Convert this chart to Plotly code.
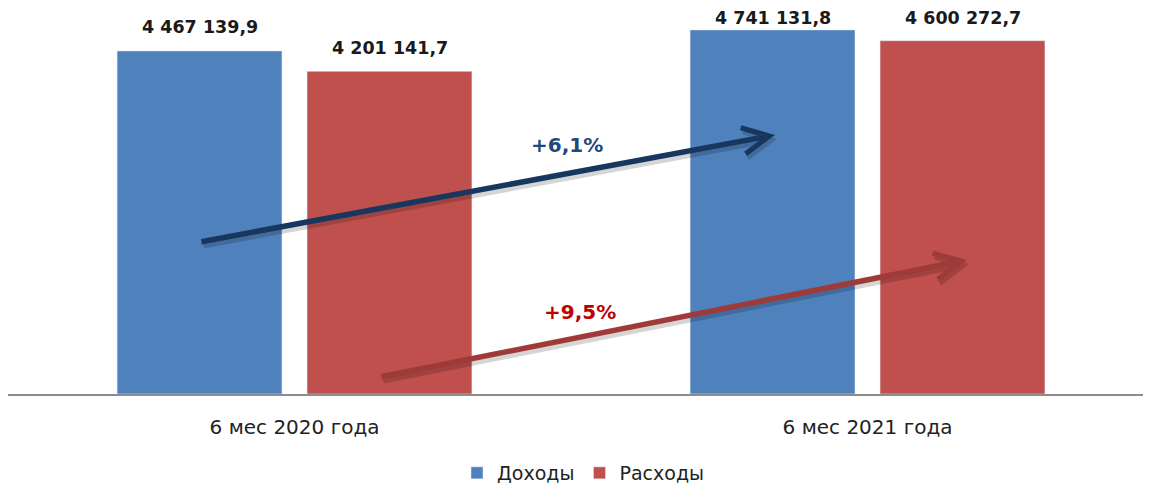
import plotly.graph_objects as go

categories = ["6 мес 2020 года", "6 мес 2021 года"]
income = [4467139.9, 4741131.8]
expenses = [4201141.7, 4600272.7]
series_names = ["Доходы", "Расходы"]
income_labels = ["4 467 139,9", "4 741 131,8"]
expense_labels = ["4 201 141,7", "4 600 272,7"]
growth_labels = ["+6,1%", "+9,5%"]

BLUE = "#4F81BD"
RED = "#C0504D"
FONT = "DejaVu Sans"

xpos = list(range(len(categories)))

fig = go.Figure()
fig.add_trace(go.Bar(x=xpos, y=income, name=series_names[0], marker_color=BLUE))
fig.add_trace(go.Bar(x=xpos, y=expenses, name=series_names[1], marker_color=RED))

off = 0.1658
annotations = []
label_shift_inc = [12, 0]
label_shift_exp = [11, 10.5]
for i in xpos:
    annotations.append(dict(x=i - off, y=income[i], text=income_labels[i], showarrow=False,
                            yanchor="bottom", yshift=label_shift_inc[i],
                            font=dict(family=FONT, size=17.5, color="#1a1a1a", weight="bold")))
    annotations.append(dict(x=i + off, y=expenses[i], text=expense_labels[i], showarrow=False,
                            yanchor="bottom", yshift=label_shift_exp[i],
                            font=dict(family=FONT, size=17.5, color="#1a1a1a", weight="bold")))

# growth arrows (tail -> head) in axis units
arrows = [
    dict(ax=-0.165, ay=1979700, x=0.8386, y=3373300, color="#17375E"),
    dict(ax=0.149, ay=221400, x=1.1736, y=1745200, color="#9E3A37"),
]
for a in arrows:
    annotations.append(dict(x=a["x"], y=a["y"], ax=a["ax"], ay=a["ay"], xref="x", yref="y",
                            axref="x", ayref="y", text="", showarrow=True, arrowhead=5,
                            arrowsize=0.95, arrowwidth=5.5, arrowcolor="rgba(0,0,0,0.16)",
                            standoff=0, xshift=2, yshift=-4))
    annotations.append(dict(x=a["x"], y=a["y"], ax=a["ax"], ay=a["ay"], xref="x", yref="y",
                            axref="x", ayref="y", text="", showarrow=True, arrowhead=5,
                            arrowsize=0.95, arrowwidth=5.5, arrowcolor=a["color"], standoff=0))

annotations.append(dict(x=0.4756, y=3243000, text=growth_labels[0], showarrow=False,
                        font=dict(family=FONT, size=20, color="#1F497D", weight="bold")))
annotations.append(dict(x=0.4983, y=1068000, text=growth_labels[1], showarrow=False,
                        font=dict(family=FONT, size=20, color="#C00000", weight="bold")))

fig.update_layout(
    width=1151, height=488,
    margin=dict(l=0, r=0, t=2, b=102),
    paper_bgcolor="white", plot_bgcolor="white",
    barmode="group", bargap=0.337, bargroupgap=0.132,
    font=dict(family=FONT, size=18, color="#222222"),
    xaxis=dict(range=[-0.5, 1.5087], tickvals=xpos, ticktext=categories,
               showline=True, linecolor="#8C8C8C", linewidth=2, showgrid=False,
               zeroline=False, ticks="outside", ticklen=14, tickcolor="rgba(0,0,0,0)",
               tickfont=dict(family=FONT, size=20, color="#222222")),
    yaxis=dict(range=[0, 5.0e6], visible=False, showgrid=False, zeroline=False),
    showlegend=True,
    legend=dict(orientation="h", x=0.5, xanchor="center", y=-0.2057, yanchor="middle",
                font=dict(family=FONT, size=19, color="#222222"), itemwidth=30),
    annotations=annotations,
)

fig.write_html("out.html")
